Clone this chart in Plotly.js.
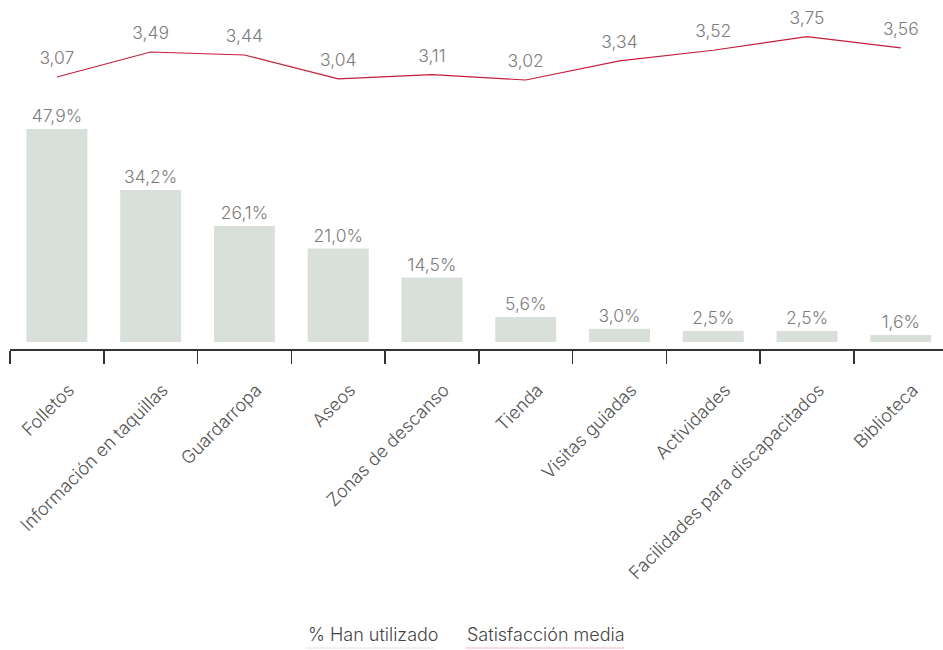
<!DOCTYPE html>
<html>
<head>
<meta charset="utf-8">
<script src="https://cdn.plot.ly/plotly-3.0.1.min.js"></script>
<style>html,body{margin:0;padding:0;background:#fff;}#chart{width:943px;height:650px;}</style>
</head>
<body>
<div id="chart"></div>
<script>
const categories = ["Folletos","Información en taquillas","Guardarropa","Aseos","Zonas de descanso","Tienda","Visitas guiadas","Actividades","Facilidades para discapacitados","Biblioteca"];
const usedPct = [47.9, 34.2, 26.1, 21.0, 14.5, 5.6, 3.0, 2.5, 2.5, 1.6];
const satisfaction = [3.07, 3.49, 3.44, 3.04, 3.11, 3.02, 3.34, 3.52, 3.75, 3.56];
const seriesNames = ["% Han utilizado", "Satisfacción media"];

const FONT = "Inter, 'Open Sans', sans-serif";
const fmt = (v, d) => v.toFixed(d).replace('.', ',');

const bars = {
  type: 'bar', x: categories, y: usedPct, name: seriesNames[0],
  marker: {color: '#d9e0d9'},
  text: usedPct.map(v => fmt(v,1) + '%'),
  textposition: 'outside', cliponaxis: false,
  textfont: {family: FONT, size: 17.5, color: '#7d7d7d', weight: 300},
  hoverinfo: 'x+y', showlegend: false
};
const line = {
  type: 'scatter', mode: 'lines+markers+text', x: categories, y: satisfaction, yaxis: 'y2',
  name: seriesNames[1],
  line: {color: '#c41e3a', width: 1.2},
  marker: {size: 12, opacity: 0, color: '#c41e3a'},
  text: satisfaction.map(v => fmt(v,2)),
  textposition: 'top center', cliponaxis: false,
  textfont: {family: FONT, size: 17.5, color: '#7d7d7d', weight: 300},
  showlegend: false
};

const layout = {
  width: 943, height: 650,
  margin: {l: 10, r: 0, t: 0, b: 301},
  paper_bgcolor: '#fff', plot_bgcolor: '#fff',
  font: {family: FONT, color: '#555'},
  bargap: 0.35,
  xaxis: {
    type: 'category', range: [-0.5, 9.45],
    tickson: 'boundaries', ticks: 'outside', ticklen: 13, tickwidth: 1.5, tickcolor: '#333',
    showline: true, linecolor: '#333', linewidth: 1.5,
    tickangle: -45, tickfont: {family: FONT, size: 18, color: '#555', weight: 300},
    ticklabelshift: 12, ticklabelstandoff: 22,
    showgrid: false, zeroline: false, fixedrange: true
  },
  yaxis: {range: [-1.57, 76.9], visible: false, showgrid: false, zeroline: false, fixedrange: true},
  yaxis2: {range: [-1.50, 4.364], overlaying: 'y', visible: false, showgrid: false, zeroline: false, fixedrange: true},
  showlegend: false,
  annotations: [
    {text: seriesNames[0], xref: 'paper', yref: 'paper', x: 0.317, y: -0.818, xanchor: 'left', yanchor: 'middle', showarrow: false, font: {family: FONT, size: 18, color: '#444', weight: 300}},
    {text: seriesNames[1], xref: 'paper', yref: 'paper', x: 0.488, y: -0.818, xanchor: 'left', yanchor: 'middle', showarrow: false, font: {family: FONT, size: 18, color: '#444', weight: 300}}
  ],
  shapes: [
    {type: 'line', xref: 'paper', yref: 'paper', x0: 0.317, x1: 0.4545, y0: -0.857, y1: -0.857, line: {color: '#e8ece8', width: 1.5}},
    {type: 'line', xref: 'paper', yref: 'paper', x0: 0.488, x1: 0.658, y0: -0.857, y1: -0.857, line: {color: '#f0d4d4', width: 1.5}}
  ]
};

Plotly.newPlot('chart', [bars, line], layout, {displayModeBar: false, staticPlot: true});
</script>
</body>
</html>
